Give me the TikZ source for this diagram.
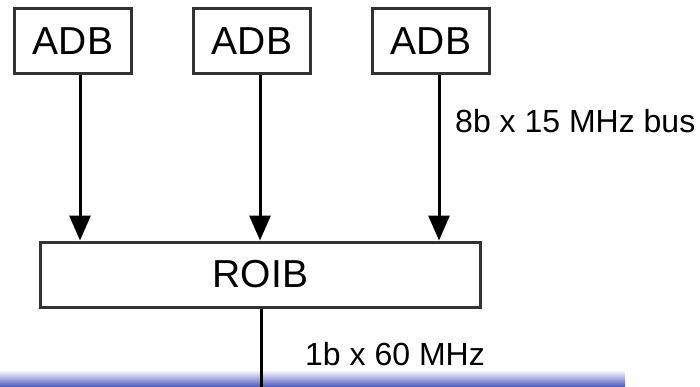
\documentclass[tikz,border=0pt]{standalone}
\usepackage{fontspec}
\setmainfont{Liberation Sans}
\usepackage{tikz}
\usetikzlibrary{arrows.meta,positioning,calc}
\definecolor{boxGrey}{HTML}{333333}
\definecolor{busBlue}{HTML}{4A58BE}

\begin{document}
\begin{tikzpicture}[
    x=1pt, y=-1pt,
    >={Triangle[length=25pt, width=21pt]},
    block/.style={draw=boxGrey, line width=3pt, minimum width=#1,
                  minimum height=65pt, inner sep=0pt,
                  font=\fontsize{39}{39}\selectfont},
    buslabel/.style={font=\fontsize{32}{32}\selectfont, inner sep=0pt},
    link/.style={->, line width=3pt, black},
  ]
  \useasboundingbox (0,0) rectangle (700,387);

  % --- readout bus bar (bottom) ---
  \shade[top color=white, bottom color=busBlue] (0,370) rectangle (625,387);

  % --- boards ---
  \node[block=117pt] (adbA) at (73,41)  {ADB};
  \node[block=117pt] (adbB) at (252,41) {ADB};
  \node[block=117pt] (adbC) at (431,41) {ADB};

  \node[block=440pt] (roib) at (260.5,274.5) {ROIB};

  % --- links ---
  \draw[link] ([xshift=7pt]adbA.south) -- ([xshift=7pt]adbA.south |- roib.north);
  \draw[link] ([xshift=8pt]adbB.south) -- ([xshift=8pt]adbB.south |- roib.north);
  \draw[link] ([xshift=8pt]adbC.south) -- ([xshift=8pt]adbC.south |- roib.north);

  \coordinate (busin) at ($(roib.south)+(0.5,0)$);
  \coordinate (busout) at (busin |- 0,387);
  \draw[line width=3pt] (busin) -- (busout);

  % --- labels ---
  \node[buslabel, anchor=base west] (adblbl) at (455,133) {8b x 15 MHz bus};
  \node[buslabel, anchor=base west] (roiblbl) at (305,365) {1b x 60 MHz};

\end{tikzpicture}
\end{document}
